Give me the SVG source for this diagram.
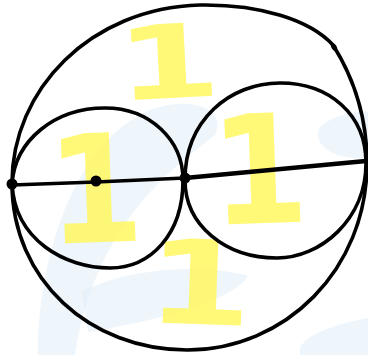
<svg xmlns="http://www.w3.org/2000/svg" width="368" height="355" viewBox="0 0 368 355">
  <style>
    .bg { fill: #e3eff9; opacity: 0.6; stroke: none; }
    .one { font-family: "DejaVu Sans", "Liberation Sans", sans-serif; font-weight: bold; fill: #fff860; opacity: 0.85; text-anchor: middle; }
    .ring { fill: none; stroke: #000; stroke-width: 3.6; stroke-linecap: round; stroke-linejoin: round; }
    .dot { fill: #000; }
  </style>
  <rect x="0" y="0" width="368" height="355" fill="#ffffff"/>
  <g id="background">
    <path class="bg" d="M150,110 C190,95 228,108 215,135 C170,170 95,225 75,355 L38,355 C38,250 78,140 150,110 Z"/>
    <path class="bg" d="M82,292 C120,270 200,262 248,276 C232,302 150,322 88,332 Z"/>
    <path class="bg" d="M318,132 C322,115 368,110 368,112 L368,158 C340,160 316,150 318,132 Z"/>
    <path class="bg" d="M300,348 C308,328 368,318 368,318 L368,355 L300,355 Z"/>
  </g>
  <g id="numbers">
    <text class="one" font-size="102" transform="translate(170,98) rotate(-3) scale(1.48,1)">1</text>
    <text class="one" font-size="150" transform="translate(97,242) rotate(-2) scale(0.92,1)">1</text>
    <text class="one" font-size="151" transform="translate(261,223) rotate(-2) scale(0.93,1)">1</text>
    <text class="one" font-size="117" transform="translate(198,324) rotate(2) scale(1.31,1)">1</text>
  </g>
  <g id="outer-circle">
    <path class="ring" d="M12,183 C12,90 90,8 200,5 C260,4 310,20 333,45 C355,80 367,120 367,163 C367,270 285,350 187,350 C90,350 12,280 12,183 Z"/>
    <ellipse cx="334" cy="47" rx="2.6" ry="4" transform="rotate(-30 334 47)" class="dot"/>
  </g>
  <g id="left-circle">
    <path class="ring" d="M12,184 C15,140 55,108 105,108 C150,108 183,140 183,180 C183,235 150,268 110,268 C65,268 15,240 12,184 Z"/>
  </g>
  <g id="right-circle">
    <path class="ring" d="M185,180 C185,120 230,83 280,83 C330,83 366,115 366,163 C366,220 320,258 277,258 C225,258 185,225 185,180 Z"/>
  </g>
  <g id="connectors">
    <path d="M12,185 L96,182 L185,178" fill="none" stroke="#000" stroke-width="3.5" stroke-linecap="round"/>
    <path d="M185,178 L366,161" fill="none" stroke="#000" stroke-width="4.3" stroke-linecap="round"/>
  </g>
  <g id="points">
    <circle class="dot" cx="12" cy="184" r="5.5"/>
    <circle class="dot" cx="96" cy="181" r="5.5"/>
    <circle class="dot" cx="185" cy="178" r="5.5"/>
  </g>
</svg>
